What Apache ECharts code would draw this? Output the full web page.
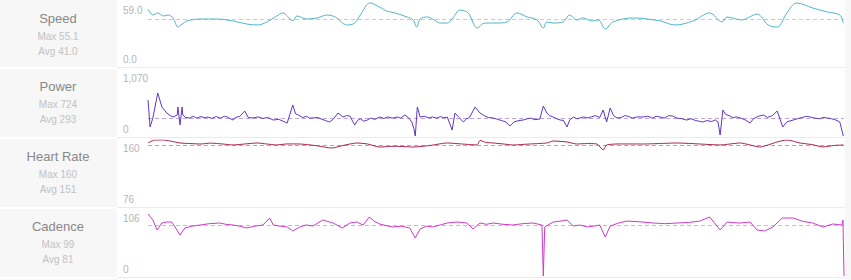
<!DOCTYPE html>
<html><head><meta charset="utf-8">
<script src="https://cdn.jsdelivr.net/npm/echarts@6/dist/echarts.min.js"></script>
<style>html,body{margin:0;padding:0;background:#fff}#c{width:851px;height:280px}</style>
</head><body><div id="c"></div>
<script>
// ---- data (x = % of ride distance) ----
const metricNames = ['Speed', 'Power', 'Heart Rate', 'Cadence'];
const maxTexts = ['Max 55.1', 'Max 724', 'Max 160', 'Max 99'];
const avgTexts = ['Avg 41.0', 'Avg 293', 'Avg 151', 'Avg 81'];
const axisMin = [0, 0, 76, 0];
const axisMax = [59, 1070, 160, 106];
const avgLineValues = [43, 293, 153, 81];

const speedData = [[0,52.6],[0.7,47.0],[1.4,48.9],[2.2,46.1],[2.9,47.0],[3.6,44.3],[4.3,36.0],[4.9,38.7],[5.6,41.5],[7.5,43.3],[9.9,43.3],[12.2,41.5],[14.2,38.7],[15.7,37.8],[17.1,40.6],[18.5,46.1],[19.4,48.9],[20.0,46.1],[20.8,41.5],[21.4,46.1],[22.8,43.3],[24.3,44.3],[25.7,47.0],[26.9,45.2],[28.6,37.8],[29.7,39.6],[30.5,47.0],[31.9,58.1],[33.0,55.3],[34.3,50.7],[35.5,48.9],[37.2,45.2],[38.1,42.4],[38.6,36.0],[39.1,43.3],[40.1,45.2],[40.9,43.3],[42.0,39.6],[43.0,39.6],[43.8,44.3],[44.8,51.6],[46.0,48.9],[47.3,35.0],[48.4,39.6],[50.1,39.6],[51.6,40.6],[53.0,48.9],[54.5,45.2],[55.9,42.4],[56.8,35.0],[57.3,40.6],[58.2,39.6],[59.6,40.6],[60.6,47.0],[61.6,42.4],[62.5,44.3],[63.8,41.5],[64.7,42.4],[65.7,34.1],[66.8,40.6],[69.7,44.3],[73.6,41.5],[75.7,37.8],[78.3,41.5],[80.7,48.9],[82.5,40.6],[83.2,45.2],[85.3,42.4],[87.5,47.9],[89.1,37.8],[90.4,36.0],[91.8,48.9],[93.2,58.1],[95.5,53.5],[97.6,49.8],[99.4,47.0],[99.9,39.6]];

const powerData = [[0,583],[0.3,146],[0.7,292],[1.4,697],[2.0,470],[2.7,373],[3.2,330],[3.6,308],[4.2,340],[4.3,470],[4.6,178],[4.9,470],[5.0,340],[5.4,300],[6.0,292],[6.5,320],[7.0,290],[7.6,315],[8.2,295],[8.5,308],[9.2,285],[9.8,315],[10.4,290],[11.0,320],[11.4,308],[12.2,259],[12.6,300],[13.2,320],[13.9,405],[14.4,300],[15.1,292],[15.8,310],[16.5,285],[17.2,300],[18.0,259],[18.8,270],[19.4,240],[20.0,211],[20.8,502],[21.2,360],[21.6,340],[22.2,300],[22.8,320],[23.2,290],[23.7,292],[24.4,300],[25.0,270],[25.5,250],[26.1,227],[26.6,270],[27.3,373],[28.0,308],[28.5,330],[29.0,324],[29.7,178],[30.1,250],[30.5,280],[31.0,240],[31.5,259],[32.0,290],[32.6,270],[33.3,308],[33.9,285],[34.5,310],[35.1,290],[35.8,308],[36.3,290],[36.9,340],[37.4,300],[37.9,227],[38.2,120],[38.4,0],[38.7,470],[39.1,308],[39.7,320],[40.3,295],[40.9,308],[41.5,290],[42.0,315],[42.5,295],[43.0,308],[43.7,97],[44.1,373],[44.7,300],[45.3,227],[45.8,280],[46.2,300],[47.0,470],[47.7,373],[48.3,330],[48.9,300],[49.6,292],[50.2,270],[50.8,250],[51.4,230],[52.0,162],[52.6,230],[53.3,250],[53.9,259],[54.5,280],[55.0,290],[55.6,265],[56.3,275],[56.8,486],[57.3,373],[57.7,330],[58.2,308],[58.7,280],[59.2,260],[59.7,250],[60.2,146],[60.6,260],[61.1,308],[61.6,280],[62.1,292],[62.6,310],[63.1,292],[63.7,310],[64.3,330],[64.9,300],[65.4,421],[65.9,227],[66.4,454],[66.9,330],[67.4,292],[68.0,300],[68.5,330],[69.0,320],[69.6,290],[70.3,310],[71.1,308],[71.8,320],[72.5,290],[73.0,320],[73.6,308],[74.2,290],[74.8,330],[75.4,324],[76.0,290],[76.7,280],[77.4,259],[78.0,280],[78.7,250],[79.2,240],[79.7,227],[80.3,250],[81.0,235],[81.5,260],[81.9,227],[82.2,16],[82.6,421],[83.0,350],[83.5,330],[84.0,300],[84.6,308],[85.2,290],[85.8,260],[86.5,211],[87.0,280],[87.7,320],[88.4,340],[89.0,300],[89.7,330],[90.4,405],[91.2,146],[91.8,230],[92.7,259],[93.3,280],[94.0,300],[94.6,320],[95.1,308],[95.8,290],[96.5,280],[97.0,300],[97.6,292],[98.2,280],[98.8,260],[99.4,227],[99.9,0]];

const heartData = [[0,156.2],[1.0,160],[2.2,160],[3.2,158.7],[4.6,156.2],[6.0,155.5],[7.5,154.9],[9.0,156],[10.0,155.5],[11.2,154.5],[12.2,153.7],[14.0,155],[15.7,156.2],[17.0,155],[18.5,153.7],[20.0,155],[21.8,154.9],[24.0,153],[26.4,149.8],[28.0,153],[30.0,156.2],[31.5,155],[33.3,151.1],[35.5,152],[38.1,151.1],[40.5,153],[43.0,156.2],[45.0,155],[47.3,153.7],[47.7,159.5],[48.5,157],[49.6,156.2],[51.0,155],[52.4,153.7],[55.0,155],[57.3,156.2],[58.2,158.7],[60.2,157.5],[61.6,154.9],[63.0,155.5],[64.5,154.9],[65.4,147.3],[65.9,153.7],[68.0,155],[71.1,154.9],[73.5,155.5],[76.0,156.2],[79.3,154.9],[82.2,153.7],[85.1,156.2],[87.9,151.1],[90.4,157.5],[91.8,160],[93.7,156.2],[95.5,154],[97.0,151.1],[98.5,153],[99.9,153.7]];

const cadenceData = [[0,99.6],[0.7,89.9],[1.3,73.9],[2.0,85.1],[2.7,86.7],[3.4,86.7],[3.9,78.7],[4.6,65.8],[5.3,77.1],[6.3,80],[7.5,81.9],[8.8,84],[10.3,85.1],[11.2,83],[12.2,81.9],[13.2,80],[14.2,77.1],[15.3,80],[16.5,81.9],[17.5,93.1],[18.0,81.9],[19.0,80],[20.0,78.7],[20.8,72.3],[21.8,78.7],[22.7,82],[23.7,80.3],[25.1,89.9],[26.6,85.1],[27.9,77.1],[29.0,85.1],[30.0,86.7],[30.9,81.9],[31.8,94.8],[32.5,88],[33.3,83.5],[34.2,81],[35.2,78.7],[36.4,80],[37.6,77.1],[38.4,61.0],[39.1,75.5],[40.0,80],[40.9,78.7],[42.0,82],[43.0,85.1],[44.4,86.7],[45.8,85.1],[46.7,75.5],[47.7,85.1],[48.6,83],[49.6,85.1],[51.0,83],[52.4,81.9],[53.8,84],[55.3,85.1],[56.6,81.9],[56.8,0],[57.0,78.7],[58.2,86.7],[59.2,88],[60.2,89.9],[61.1,80.3],[62.1,81.9],[63.1,78.7],[64.0,80],[64.9,81.9],[65.7,62.6],[66.4,80.3],[67.6,85],[68.8,88.3],[70.7,87],[72.6,85.1],[74.3,84],[76.0,85.1],[77.7,86],[79.3,88.3],[80.7,94.8],[82.2,73.9],[83.2,86.7],[85.0,85],[86.5,86.7],[87.5,73.9],[88.6,72.3],[89.8,78.7],[91.1,93.1],[92.7,93.1],[94.0,88],[95.5,85.1],[97.0,78.7],[98.4,83.5],[99.7,81.9],[99.85,89.9],[100,0]];

const seriesData = [speedData, powerData, heartData, cadenceData];

// ---- styling / layout ----
const lineColors = ['#4fb6c9', '#6237bf', '#a8234f', '#cc3acc'];
const avgColors = ['#a9d8e2', '#b9a6e2', '#e58cab', '#e8a6e8'];
const smoothing = [0.35, false, 0.2, false];
const gridTops = [2, 70, 140, 210];
const gridHeights = [64, 66, 66, 66];
const panelTops = [0, 68, 138, 208];
const sepYs = [67, 137, 207, 277];
const FONT = "'Liberation Sans', Arial, sans-serif";

function fmt(i, v) {
  if (i === 0) return v.toFixed(1);
  return v.toLocaleString('en-US');
}

const grids = [], xAxes = [], yAxes = [], series = [];
for (let i = 0; i < 4; i++) {
  grids.push({ left: 148, right: 7, top: gridTops[i], height: gridHeights[i] });
  xAxes.push({ type: 'value', gridIndex: i, min: 0, max: 100, show: false });
  const mn = axisMin[i], mx = axisMax[i];
  yAxes.push({
    type: 'value', gridIndex: i, min: mn, max: mx, interval: mx - mn,
    axisLine: { show: false }, axisTick: { show: false }, splitLine: { show: false },
    axisLabel: {
      align: 'left', margin: 25, color: '#b5b5b5', fontSize: 10, fontFamily: FONT,
      formatter: function (v) { return (v === mx ? '{t|' : '{b|') + fmt(i, v) + '}'; },
      rich: {
        t: { padding: [17, 0, 0, 0], color: '#b5b5b5', fontSize: 10, fontFamily: FONT },
        b: { padding: [0, 0, 14, 0], color: '#b5b5b5', fontSize: 10, fontFamily: FONT }
      }
    }
  });
  series.push({
    type: 'line', xAxisIndex: i, yAxisIndex: i, data: seriesData[i],
    smooth: smoothing[i],
    showSymbol: false, symbol: 'none', lineStyle: { color: lineColors[i], width: 1 },
    itemStyle: { color: lineColors[i] }, z: 3,
    markLine: {
      silent: true, symbol: 'none', label: { show: false }, z: 2,
      lineStyle: { type: [4, 3], color: avgColors[i], width: 1 },
      data: [{ yAxis: avgLineValues[i] }]
    }
  });
}

const graphics = [
  { type: 'rect', left: 0, top: 0, shape: { width: 117, height: 280 }, style: { fill: '#f7f7f7' }, z: -10 },
  { type: 'rect', left: 845, top: 0, shape: { width: 6, height: 280 }, style: { fill: '#f7f7f7' }, z: -10 }
];
sepYs.forEach(function (y) {
  graphics.push({ type: 'rect', left: 117, top: y, shape: { width: 728, height: 1 }, style: { fill: '#ebebeb' }, z: -5 });
  graphics.push({ type: 'rect', left: 0, top: y, shape: { width: 117, height: 2 }, style: { fill: '#ffffff' }, z: -5 });
});
for (let i = 0; i < 4; i++) {
  const t = panelTops[i];
  graphics.push({ type: 'text', x: 58, y: t + 18, style: { text: metricNames[i], fill: '#888888', font: '13px ' + FONT, textAlign: 'center', textVerticalAlign: 'middle' } });
  graphics.push({ type: 'text', x: 58, y: t + 36, style: { text: maxTexts[i], fill: '#c2c2c2', font: '10px ' + FONT, textAlign: 'center', textVerticalAlign: 'middle' } });
  graphics.push({ type: 'text', x: 58, y: t + 51, style: { text: avgTexts[i], fill: '#c2c2c2', font: '10px ' + FONT, textAlign: 'center', textVerticalAlign: 'middle' } });
}

const chart = echarts.init(document.getElementById('c'), null, { renderer: 'svg' });
chart.setOption({
  animation: false,
  backgroundColor: '#ffffff',
  grid: grids, xAxis: xAxes, yAxis: yAxes, series: series,
  graphic: graphics
});
</script></body></html>
